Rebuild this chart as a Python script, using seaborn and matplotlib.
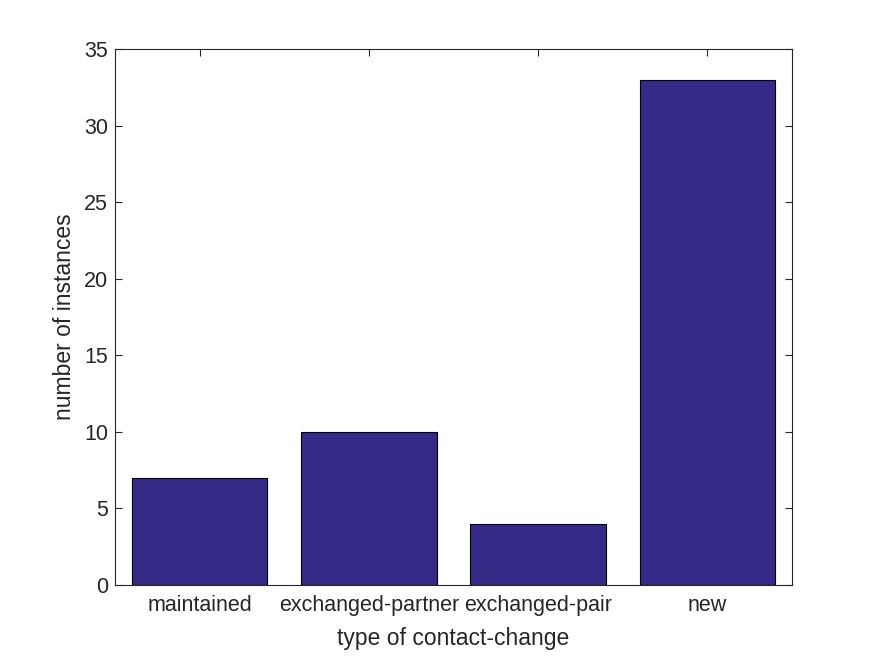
import matplotlib
matplotlib.use("Agg")
import matplotlib.pyplot as plt
import seaborn as sns
import pandas as pd

categories = ["maintained", "exchanged-partner", "exchanged-pair", "new"]
counts = [7, 10, 4, 33]
yticks = [0, 5, 10, 15, 20, 25, 30, 35]

sns.set_style("white")
plt.rcParams['font.family'] = ['Liberation Sans', 'DejaVu Sans']

df = pd.DataFrame({"type": categories, "count": counts})

fig = plt.figure(figsize=(8.75, 6.56), dpi=100)
ax = fig.add_axes([115/875, 1-585/656, (792-115)/875, (585-49)/656])
sns.barplot(data=df, x="type", y="count", color="#352A86", saturation=1,
            width=0.8, edgecolor="black", linewidth=0.8, ax=ax)
ax.set_xlim(-0.5, 3.5)
ax.set_ylim(0, 35)
ax.set_yticks(yticks)
ax.set_xlabel("type of contact-change", fontsize=16.5, color="#262626", labelpad=8)
ax.set_ylabel("number of instances", fontsize=16.5, color="#262626", labelpad=6)
ax.tick_params(direction="in", length=5, width=0.8, colors="#262626",
               labelsize=15.5, top=True, right=True, left=True, bottom=True)
ax.tick_params(axis="x", pad=7)
ax.tick_params(axis="y", pad=5)
for s in ax.spines.values():
    s.set_visible(True)
    s.set_color("#262626")
    s.set_linewidth(0.8)
fig.savefig("out.png", dpi=100, facecolor="white")
